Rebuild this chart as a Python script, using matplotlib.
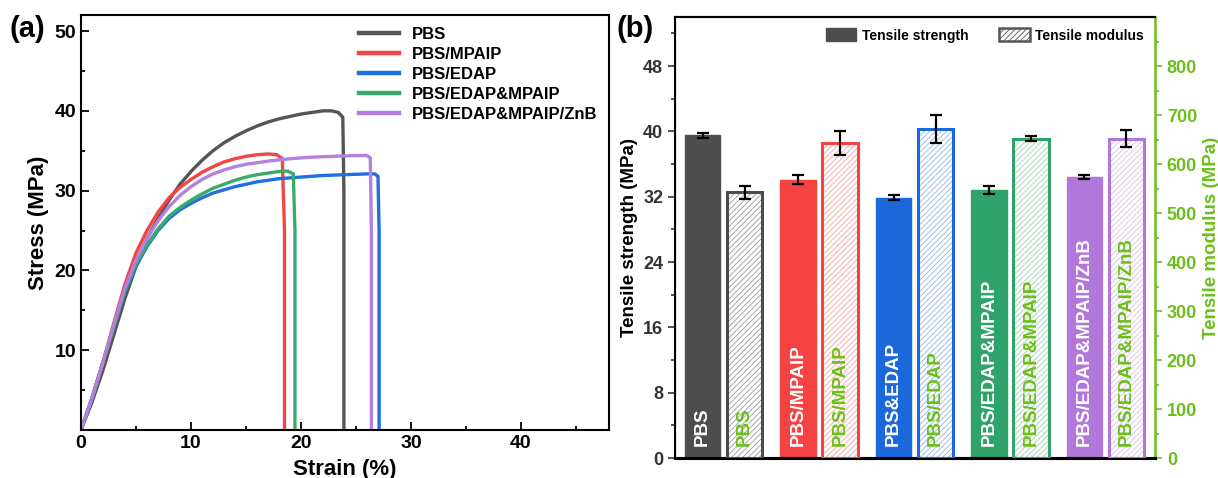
import numpy as np
import matplotlib
matplotlib.use('Agg')
from matplotlib import pyplot as plt
from matplotlib.patches import Patch

plt.rcParams['font.family'] = ['Liberation Sans', 'DejaVu Sans']
plt.rcParams['font.weight'] = 'bold'
plt.rcParams['hatch.linewidth'] = 0.6

# ---------------- data: stress-strain curves (a) ----------------
names = ['PBS', 'PBS/MPAIP', 'PBS/EDAP', 'PBS/EDAP&MPAIP', 'PBS/EDAP&MPAIP/ZnB']
line_colors = ['#555555', '#f44444', '#1e6fe0', '#3aaa6a', '#b47fe0']

pbs_strain = [0, 1, 2, 3, 4, 5, 6, 7, 8, 9, 10, 11, 12, 13, 14, 15, 16, 17, 18, 19, 20, 21, 22, 22.8, 23.4, 23.8, 23.9, 23.9]
pbs_stress = [0, 3.5, 7.5, 12, 16.5, 20.5, 24, 26.5, 28.8, 30.8, 32.4, 33.8, 35, 36, 36.8, 37.5, 38.1, 38.6, 39.0, 39.3, 39.6, 39.8, 40.0, 40.0, 39.8, 39.2, 30, 0]

mpaip_strain = [0, 1, 2, 3, 4, 5, 6, 7, 8, 9, 10, 11, 12, 13, 14, 15, 16, 17, 17.8, 18.3, 18.5, 18.5]
mpaip_stress = [0, 4, 8.5, 13.5, 18.3, 22.2, 25.0, 27.3, 29.1, 30.4, 31.4, 32.3, 33.0, 33.6, 34.0, 34.3, 34.5, 34.6, 34.5, 34.0, 25, 0]

edap_strain = [0, 1, 2, 3, 4, 5, 6, 7, 8, 9, 10, 11, 12, 13, 14, 15, 16, 17, 18, 19, 20, 21, 22, 23, 24, 25, 26, 26.7, 27.0, 27.1, 27.1]
edap_stress = [0, 4, 8.5, 13, 17.3, 20.5, 23, 25, 26.5, 27.6, 28.4, 29.1, 29.7, 30.1, 30.5, 30.8, 31.1, 31.3, 31.5, 31.6, 31.7, 31.8, 31.9, 31.95, 32.0, 32.05, 32.1, 32.1, 31.8, 25, 0]

em_strain = [0, 1, 2, 3, 4, 5, 6, 7, 8, 9, 10, 11, 12, 13, 14, 15, 16, 17, 18, 18.8, 19.3, 19.45, 19.45]
em_stress = [0, 4, 8.5, 13, 17.5, 20.8, 23.2, 25.2, 26.8, 27.9, 28.8, 29.6, 30.3, 30.8, 31.3, 31.7, 32.0, 32.2, 32.4, 32.45, 32.1, 25, 0]

znb_strain = [0, 1, 2, 3, 4, 5, 6, 7, 8, 9, 10, 11, 12, 13, 14, 15, 16, 17, 18, 19, 20, 21, 22, 23, 24, 25, 26, 26.3, 26.4, 26.4]
znb_stress = [0, 4, 8.5, 13.3, 17.8, 21.3, 24, 26.2, 28, 29.4, 30.5, 31.4, 32.1, 32.6, 33.0, 33.3, 33.5, 33.7, 33.85, 34.0, 34.1, 34.2, 34.25, 34.3, 34.35, 34.4, 34.4, 34.1, 25, 0]

curves = [(pbs_strain, pbs_stress), (mpaip_strain, mpaip_stress), (edap_strain, edap_stress),
          (em_strain, em_stress), (znb_strain, znb_stress)]

# ---------------- data: bars (b) ----------------
strength_labels = ['PBS', 'PBS/MPAIP', 'PBS&EDAP', 'PBS/EDAP&MPAIP', 'PBS/EDAP&MPAIP/ZnB']
modulus_labels = ['PBS', 'PBS/MPAIP', 'PBS/EDAP', 'PBS/EDAP&MPAIP', 'PBS/EDAP&MPAIP/ZnB']
strength = [39.5, 34.1, 31.9, 32.8, 34.4]
strength_err = [0.3, 0.5, 0.25, 0.5, 0.2]
modulus = [542, 643, 671, 652, 652]
modulus_err = [13, 25, 29, 5, 18]
bar_colors = ['#4d4d4d', '#f54242', '#1a68d9', '#2fa36a', '#b277da']
hatch_colors = ['#9a9a9a', '#f7a0a0', '#8fb4ec', '#95d2b2', '#d8bcee']
green = '#6cbf1a'

fig = plt.figure(figsize=(12.18, 4.78), dpi=100)

# ---------------- panel (a) ----------------
ax1 = fig.add_axes([0.0665, 0.1004, 0.4335, 0.868])
for (sx, sy), c, n in zip(curves, line_colors, names):
    ax1.plot(sx, sy, color=c, lw=2.4, label=n, solid_joinstyle='round')
ax1.set_xlim(0, 48)
ax1.set_ylim(0, 52)
ax1.set_xticks([0, 10, 20, 30, 40])
ax1.set_xticks([5, 15, 25, 35, 45], minor=True)
ax1.set_yticks([10, 20, 30, 40, 50])
ax1.set_yticks([5, 15, 25, 35, 45], minor=True)
ax1.tick_params(which='both', direction='in', width=1.3)
ax1.tick_params(which='major', length=6, labelsize=14)
ax1.tick_params(which='minor', length=3)
for s in ax1.spines.values():
    s.set_linewidth(1.5)
ax1.set_xlabel('Strain (%)', fontsize=16, fontweight='bold', labelpad=5)
ax1.set_ylabel('Stress (MPa)', fontsize=16, fontweight='bold', labelpad=4)
leg = ax1.legend(loc='upper right', frameon=False, fontsize=12, handlelength=2.4,
                 labelspacing=0.3, borderaxespad=0.3, handletextpad=0.8)
for l in leg.get_lines():
    l.set_linewidth(3.2)
fig.text(0.008, 0.94, '(a)', fontsize=21, fontweight='bold', va='center')

# ---------------- panel (b) ----------------
ax2 = fig.add_axes([0.5542, 0.0418, 0.3941, 0.9226])
ax3 = ax2.twinx()
x = np.arange(len(strength))
off = 0.22
w = 0.37
ax2.bar(x - off, strength, w, color=bar_colors, edgecolor=bar_colors, lw=1, zorder=2)
ax2.errorbar(x - off, strength, yerr=strength_err, fmt='none', ecolor='black',
             elinewidth=1.6, capsize=4, capthick=1.6, zorder=4)
ax3.bar(x + off, modulus, w, color='white', edgecolor=hatch_colors, hatch='//////', lw=0, zorder=2)
ax3.bar(x + off, modulus, w, color='none', edgecolor=bar_colors, lw=2.2, zorder=3)
ax3.errorbar(x + off, modulus, yerr=modulus_err, fmt='none', ecolor='black',
             elinewidth=1.6, capsize=4, capthick=1.6, zorder=4)
for i in range(len(strength)):
    ax2.text(x[i] - off, 1.5, strength_labels[i], rotation=90, ha='center', va='bottom',
             color='white', fontsize=13.5, fontweight='bold', zorder=5)
    ax3.text(x[i] + off, 25, modulus_labels[i], rotation=90, ha='center', va='bottom',
             color=green, fontsize=13.5, fontweight='bold', zorder=5)

ax2.set_xlim(-0.51, 4.52)
ax2.set_ylim(0, 54)
ax3.set_ylim(0, 900)
ax2.set_xticks([])
ax2.set_yticks([0, 8, 16, 24, 32, 40, 48])
ax2.set_yticks([4, 12, 20, 28, 36, 44, 52], minor=True)
ax3.set_yticks([0, 100, 200, 300, 400, 500, 600, 700, 800])
ax3.set_yticks([50, 150, 250, 350, 450, 550, 650, 750, 850], minor=True)
ax2.tick_params(which='both', direction='out', width=1.2, colors='#333333', labelsize=13)
ax2.tick_params(which='major', length=5)
ax2.tick_params(which='minor', length=3)
ax3.tick_params(which='both', direction='out', width=1.2, colors=green, labelsize=13)
ax3.tick_params(which='major', length=5)
ax3.tick_params(which='minor', length=3)
for s in ['left', 'top']:
    ax2.spines[s].set_linewidth(1.5)
ax2.spines['bottom'].set_linewidth(2.2)
ax3.spines['bottom'].set_linewidth(2.2)
ax3.spines['top'].set_linewidth(1.5)
ax3.spines['right'].set_color(green)
ax3.spines['right'].set_linewidth(1.8)
ax2.spines['right'].set_visible(False)
ax2.set_ylabel('Tensile strength (MPa)', fontsize=13.5, fontweight='bold', labelpad=4)
ax3.set_ylabel('Tensile modulus (MPa)', fontsize=13.5, fontweight='bold', color=green, labelpad=4)

handles = [Patch(facecolor='#4d4d4d', edgecolor='#4d4d4d'),
           Patch(facecolor='white', edgecolor='#555555', hatch='//////', lw=1.8)]
ax3.legend(handles, ['Tensile strength', 'Tensile modulus'], loc='upper right', ncol=2,
           frameon=False, fontsize=10, handlelength=2.2, handleheight=1.1,
           columnspacing=2.2, borderaxespad=0.4, handletextpad=0.4)
fig.text(0.506, 0.94, '(b)', fontsize=21, fontweight='bold', va='center')

fig.savefig('out.png', dpi=100)
